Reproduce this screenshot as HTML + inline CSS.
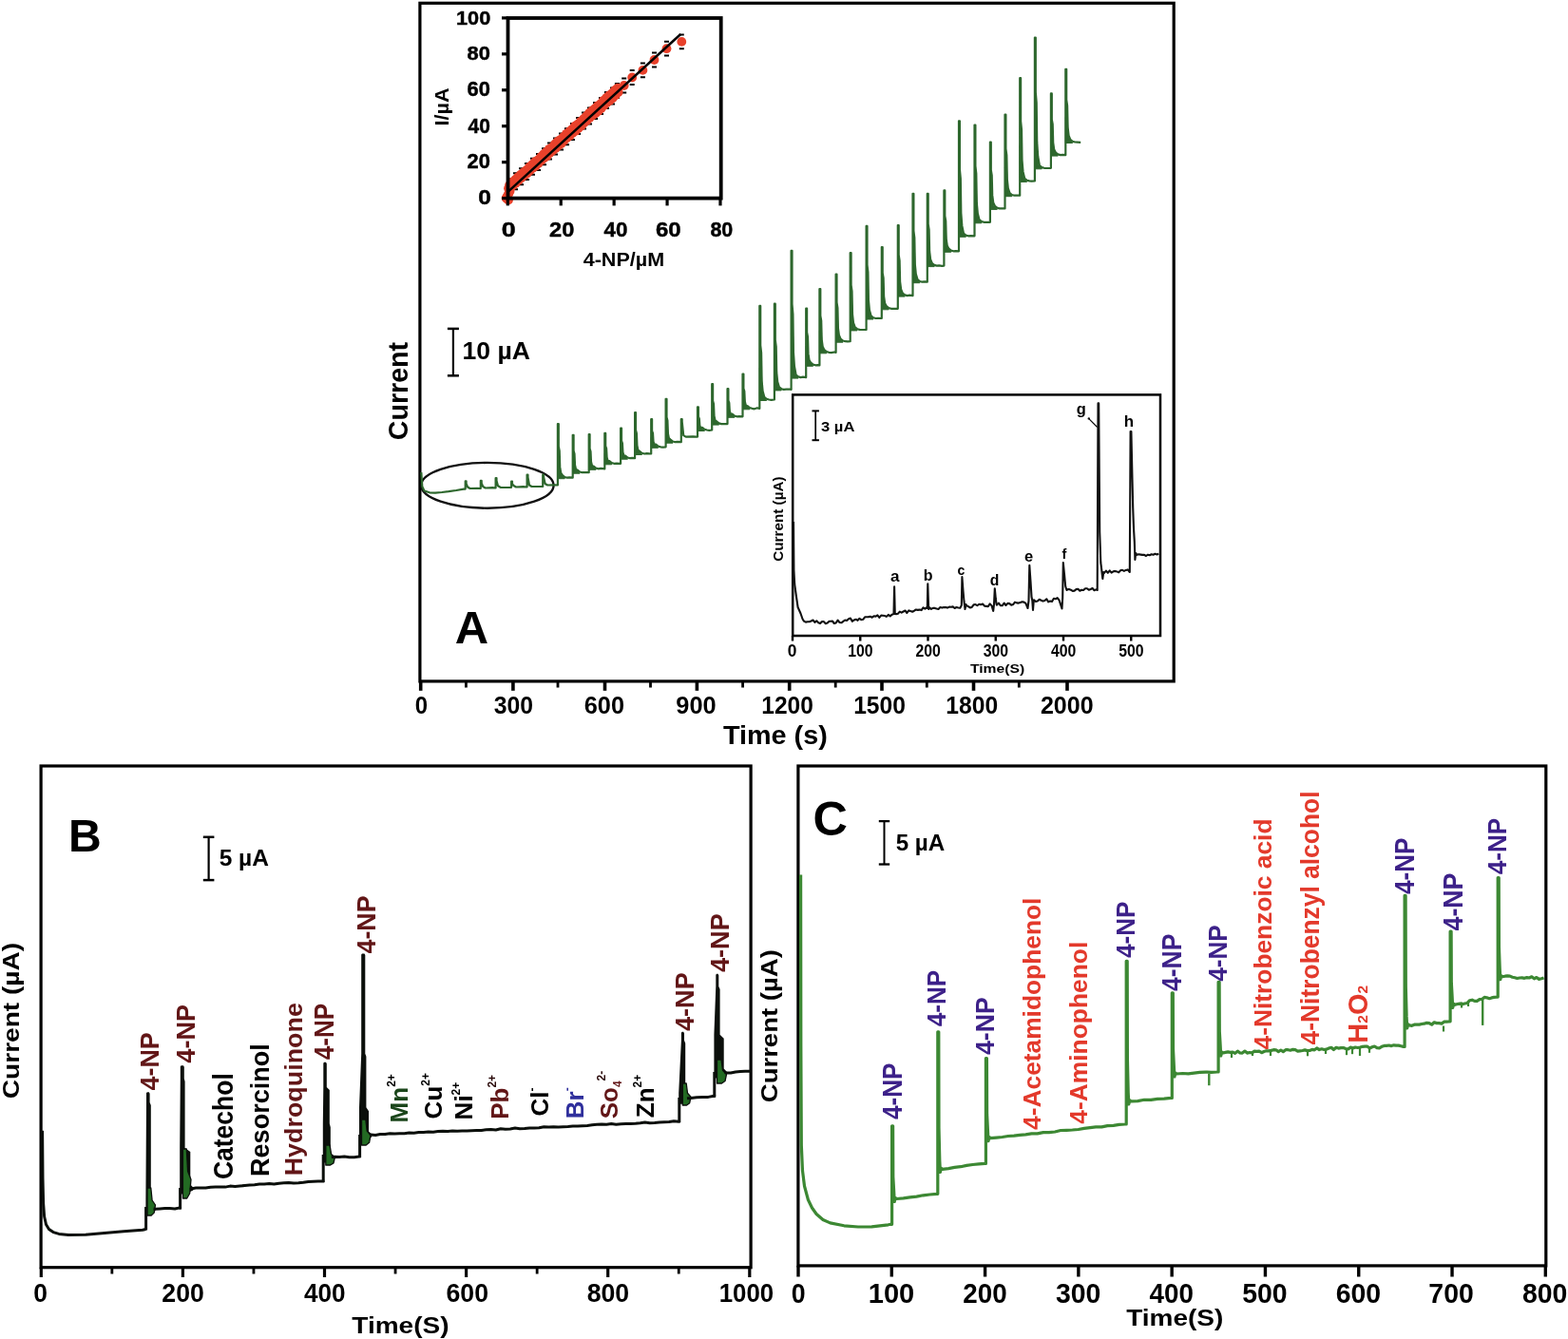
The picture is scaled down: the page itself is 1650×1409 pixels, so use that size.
<!DOCTYPE html>
<html><head><meta charset="utf-8"><title>Figure</title>
<style>html,body{margin:0;padding:0;background:#fff;}svg{display:block;}text{font-family:"Liberation Sans", Arial, Helvetica, sans-serif;}</style>
</head><body>
<svg width="1650" height="1409" viewBox="0 0 1650 1409">
<rect x="0" y="0" width="1650" height="1409" fill="#fff"/>
<rect x="441.9" y="3.3" width="793.30" height="713.60" fill="none" stroke="#000" stroke-width="3.2" stroke-linejoin="miter"/>
<line x1="442.70" y1="716.90" x2="442.70" y2="726.80" stroke="#000" stroke-width="3.6"/>
<line x1="539.90" y1="716.90" x2="539.90" y2="726.80" stroke="#000" stroke-width="3.6"/>
<line x1="636.50" y1="716.90" x2="636.50" y2="726.80" stroke="#000" stroke-width="3.6"/>
<line x1="733.40" y1="716.90" x2="733.40" y2="726.80" stroke="#000" stroke-width="3.6"/>
<line x1="830.70" y1="716.90" x2="830.70" y2="726.80" stroke="#000" stroke-width="3.6"/>
<line x1="928.00" y1="716.90" x2="928.00" y2="726.80" stroke="#000" stroke-width="3.6"/>
<line x1="1024.50" y1="716.90" x2="1024.50" y2="726.80" stroke="#000" stroke-width="3.6"/>
<line x1="1123.00" y1="716.90" x2="1123.00" y2="726.80" stroke="#000" stroke-width="3.6"/>
<line x1="490.40" y1="716.90" x2="490.40" y2="723.50" stroke="#000" stroke-width="2.8"/>
<line x1="587.00" y1="716.90" x2="587.00" y2="723.50" stroke="#000" stroke-width="2.8"/>
<line x1="684.50" y1="716.90" x2="684.50" y2="723.50" stroke="#000" stroke-width="2.8"/>
<line x1="781.60" y1="716.90" x2="781.60" y2="723.50" stroke="#000" stroke-width="2.8"/>
<line x1="879.20" y1="716.90" x2="879.20" y2="723.50" stroke="#000" stroke-width="2.8"/>
<line x1="975.30" y1="716.90" x2="975.30" y2="723.50" stroke="#000" stroke-width="2.8"/>
<line x1="1072.30" y1="716.90" x2="1072.30" y2="723.50" stroke="#000" stroke-width="2.8"/>
<line x1="476.90" y1="345.90" x2="476.90" y2="395.30" stroke="#000" stroke-width="2.2"/>
<line x1="470.90" y1="345.90" x2="482.90" y2="345.90" stroke="#000" stroke-width="2.5"/>
<line x1="470.90" y1="395.30" x2="482.90" y2="395.30" stroke="#000" stroke-width="2.5"/>
<ellipse cx="512.9" cy="510.8" rx="69.7" ry="23.9" fill="none" stroke="#111" stroke-width="2.4"/>
<path d="M586.9,503.7 L586.9,483.4 L588.9,485.4 L589.5,495.9 L590.7,499.7 L592.9,501.7 L594.3,503.7 Z" fill="#2d672d" stroke="#2d672d" stroke-width="1" stroke-linejoin="round"/>
<path d="M602.7,498.2 L602.7,483.8 L604.7,485.8 L605.3,492.5 L606.5,494.2 L608.7,496.2 L610.1,498.2 Z" fill="#2d672d" stroke="#2d672d" stroke-width="1" stroke-linejoin="round"/>
<path d="M619.7,494.3 L619.7,481.0 L621.7,483.0 L622.3,488.9 L623.5,490.3 L625.7,492.3 L627.1,494.3 Z" fill="#2d672d" stroke="#2d672d" stroke-width="1" stroke-linejoin="round"/>
<path d="M636.3,488.8 L636.3,477.0 L638.3,479.0 L638.9,484.0 L640.1,484.8 L642.3,486.8 L643.7,488.8 Z" fill="#2d672d" stroke="#2d672d" stroke-width="1" stroke-linejoin="round"/>
<path d="M653.1,483.2 L653.1,471.5 L655.1,473.5 L655.7,478.4 L656.9,479.2 L659.1,481.2 L660.5,483.2 Z" fill="#2d672d" stroke="#2d672d" stroke-width="1" stroke-linejoin="round"/>
<path d="M668.1,478.5 L668.1,462.8 L670.1,464.8 L670.7,472.3 L671.9,474.5 L674.1,476.5 L675.5,478.5 Z" fill="#2d672d" stroke="#2d672d" stroke-width="1" stroke-linejoin="round"/>
<path d="M685.2,471.3 L685.2,460.4 L687.2,462.4 L687.8,466.8 L689.0,467.3 L691.2,469.3 L692.6,471.3 Z" fill="#2d672d" stroke="#2d672d" stroke-width="1" stroke-linejoin="round"/>
<path d="M700.6,466.2 L700.6,449.8 L702.6,451.8 L703.2,459.8 L704.4,462.2 L706.6,464.2 L708.0,466.2 Z" fill="#2d672d" stroke="#2d672d" stroke-width="1" stroke-linejoin="round"/>
<path d="M734.0,453.5 L734.0,444.3 L736.0,446.3 L736.6,449.6 L737.8,449.5 L740.0,451.5 L741.4,453.5 Z" fill="#2d672d" stroke="#2d672d" stroke-width="1" stroke-linejoin="round"/>
<path d="M749.2,447.1 L749.2,431.9 L751.2,433.9 L751.8,441.1 L753.0,443.1 L755.2,445.1 L756.6,447.1 Z" fill="#2d672d" stroke="#2d672d" stroke-width="1" stroke-linejoin="round"/>
<path d="M765.5,439.3 L765.5,428.4 L767.5,430.4 L768.1,434.8 L769.3,435.3 L771.5,437.3 L772.9,439.3 Z" fill="#2d672d" stroke="#2d672d" stroke-width="1" stroke-linejoin="round"/>
<path d="M781.5,430.8 L781.5,417.5 L783.5,419.5 L784.1,425.5 L785.3,426.8 L787.5,428.8 L788.9,430.8 Z" fill="#2d672d" stroke="#2d672d" stroke-width="1" stroke-linejoin="round"/>
<path d="M799.3,421.5 L799.3,387.0 L801.3,389.0 L801.9,408.7 L803.1,417.5 L805.3,419.5 L806.7,421.5 Z" fill="#2d672d" stroke="#2d672d" stroke-width="1" stroke-linejoin="round"/>
<path d="M814.9,410.9 L814.9,379.2 L816.9,381.2 L817.5,399.1 L818.7,406.9 L820.9,408.9 L822.3,410.9 Z" fill="#2d672d" stroke="#2d672d" stroke-width="1" stroke-linejoin="round"/>
<path d="M832.6,398.1 L832.6,351.8 L834.6,353.8 L835.2,381.1 L836.4,394.1 L838.6,396.1 L840.0,398.1 Z" fill="#2d672d" stroke="#2d672d" stroke-width="1" stroke-linejoin="round"/>
<path d="M848.2,385.3 L848.2,364.0 L850.2,366.0 L850.8,377.1 L852.0,381.3 L854.2,383.3 L855.6,385.3 Z" fill="#2d672d" stroke="#2d672d" stroke-width="1" stroke-linejoin="round"/>
<path d="M862.4,371.8 L862.4,348.1 L864.4,350.1 L865.0,362.8 L866.2,367.8 L868.4,369.8 L869.8,371.8 Z" fill="#2d672d" stroke="#2d672d" stroke-width="1" stroke-linejoin="round"/>
<path d="M879.6,360.2 L879.6,335.2 L881.6,337.2 L882.2,350.7 L883.4,356.2 L885.6,358.2 L887.0,360.2 Z" fill="#2d672d" stroke="#2d672d" stroke-width="1" stroke-linejoin="round"/>
<path d="M894.7,347.9 L894.7,319.4 L896.7,321.4 L897.3,337.2 L898.5,343.9 L900.7,345.9 L902.1,347.9 Z" fill="#2d672d" stroke="#2d672d" stroke-width="1" stroke-linejoin="round"/>
<path d="M911.6,336.0 L911.6,302.0 L913.6,304.0 L914.2,323.3 L915.4,332.0 L917.6,334.0 L919.0,336.0 Z" fill="#2d672d" stroke="#2d672d" stroke-width="1" stroke-linejoin="round"/>
<path d="M927.8,325.8 L927.8,302.8 L929.8,304.8 L930.4,317.0 L931.6,321.8 L933.8,323.8 L935.2,325.8 Z" fill="#2d672d" stroke="#2d672d" stroke-width="1" stroke-linejoin="round"/>
<path d="M944.8,312.1 L944.8,285.9 L946.8,287.9 L947.4,302.2 L948.6,308.1 L950.8,310.1 L952.2,312.1 Z" fill="#2d672d" stroke="#2d672d" stroke-width="1" stroke-linejoin="round"/>
<path d="M960.5,297.7 L960.5,265.1 L962.5,267.1 L963.1,285.6 L964.3,293.7 L966.5,295.7 L967.9,297.7 Z" fill="#2d672d" stroke="#2d672d" stroke-width="1" stroke-linejoin="round"/>
<path d="M975.8,280.6 L975.8,253.8 L977.8,255.8 L978.4,270.5 L979.6,276.6 L981.8,278.6 L983.2,280.6 Z" fill="#2d672d" stroke="#2d672d" stroke-width="1" stroke-linejoin="round"/>
<path d="M993.4,265.3 L993.4,242.6 L995.4,244.6 L996.0,256.6 L997.2,261.3 L999.4,263.3 L1000.8,265.3 Z" fill="#2d672d" stroke="#2d672d" stroke-width="1" stroke-linejoin="round"/>
<path d="M1009.0,249.3 L1009.0,207.2 L1011.0,209.2 L1011.6,233.8 L1012.8,245.3 L1015.0,247.3 L1016.4,249.3 Z" fill="#2d672d" stroke="#2d672d" stroke-width="1" stroke-linejoin="round"/>
<path d="M1025.5,234.8 L1025.5,199.1 L1027.5,201.1 L1028.1,221.5 L1029.3,230.8 L1031.5,232.8 L1032.9,234.8 Z" fill="#2d672d" stroke="#2d672d" stroke-width="1" stroke-linejoin="round"/>
<path d="M1041.9,220.4 L1041.9,195.6 L1043.9,197.6 L1044.5,211.0 L1045.7,216.4 L1047.9,218.4 L1049.3,220.4 Z" fill="#2d672d" stroke="#2d672d" stroke-width="1" stroke-linejoin="round"/>
<path d="M1057.5,206.7 L1057.5,176.7 L1059.5,178.7 L1060.1,195.5 L1061.3,202.7 L1063.5,204.7 L1064.9,206.7 Z" fill="#2d672d" stroke="#2d672d" stroke-width="1" stroke-linejoin="round"/>
<path d="M1073.2,191.4 L1073.2,153.6 L1075.2,155.6 L1075.8,177.4 L1077.0,187.4 L1079.2,189.4 L1080.6,191.4 Z" fill="#2d672d" stroke="#2d672d" stroke-width="1" stroke-linejoin="round"/>
<path d="M1088.9,177.8 L1088.9,130.2 L1090.9,132.2 L1091.5,160.3 L1092.7,173.8 L1094.9,175.8 L1096.3,177.8 Z" fill="#2d672d" stroke="#2d672d" stroke-width="1" stroke-linejoin="round"/>
<path d="M1105.9,164.1 L1105.9,141.1 L1107.9,143.1 L1108.5,155.3 L1109.7,160.1 L1111.9,162.1 L1113.3,164.1 Z" fill="#2d672d" stroke="#2d672d" stroke-width="1" stroke-linejoin="round"/>
<path d="M1121.3,150.5 L1121.3,123.4 L1123.3,125.4 L1123.9,140.3 L1125.1,146.5 L1127.3,148.5 L1128.7,150.5 Z" fill="#2d672d" stroke="#2d672d" stroke-width="1" stroke-linejoin="round"/>
<path d="M443.3,497.0 L444.3,512.0 L446.5,516.5 L452.0,518.3 L458.0,518.6 L465.0,518.0 L472.0,517.2 L480.0,516.0 L488.0,514.6 L489.7,514.6 L489.7,506.4 L490.6,506.4 L490.6,508.9 L492.1,512.5 L494.6,514.0 L502.1,513.8 L505.8,514.0 L505.8,505.9 L506.7,505.9 L506.7,508.4 L508.2,512.0 L510.7,513.5 L518.2,513.2 L521.6,513.5 L521.6,503.2 L522.5,503.2 L522.5,505.7 L524.0,511.3 L526.5,512.8 L534.0,513.0 L538.1,512.8 L538.1,506.7 L539.0,506.7 L539.0,509.2 L540.5,511.0 L543.0,512.5 L550.5,512.1 L554.6,512.5 L554.6,499.6 L555.5,499.6 L555.5,502.1 L557.0,510.5 L559.5,512.0 L567.0,512.0 L571.2,512.0 L571.2,499.6 L572.1,499.6 L572.1,502.1 L573.6,509.0 L576.1,510.5 L583.6,510.4 L586.9,510.5 L586.9,446.0 L587.8,446.0 L587.8,469.8 L588.7,474.4 L589.2,491.4 L590.2,497.6 L591.9,500.1 L594.3,502.0 L596.8,502.7 L599.3,502.3 L602.7,502.7 L602.7,457.8 L603.6,457.8 L603.6,474.3 L604.5,477.5 L605.0,489.3 L606.0,493.7 L607.7,494.6 L610.1,496.5 L612.6,497.2 L615.1,497.2 L619.7,497.2 L619.7,457.0 L620.6,457.0 L620.6,472.2 L621.5,475.1 L622.0,486.0 L623.0,490.0 L624.7,490.7 L627.1,492.6 L629.6,493.3 L632.1,492.8 L636.3,493.3 L636.3,455.9 L637.2,455.9 L637.2,469.3 L638.1,471.9 L638.6,481.4 L639.6,484.9 L641.3,485.2 L643.7,487.1 L646.2,487.8 L648.7,487.7 L653.1,487.8 L653.1,450.7 L654.0,450.7 L654.0,463.9 L654.9,466.4 L655.4,475.9 L656.4,479.4 L658.1,479.6 L660.5,481.5 L663.0,482.2 L665.5,481.8 L668.1,482.2 L668.1,434.2 L669.0,434.2 L669.0,452.4 L669.9,455.9 L670.4,468.8 L671.4,473.6 L673.1,474.9 L675.5,476.8 L678.0,477.5 L680.5,477.1 L683.5,477.4 L685.2,477.5 L685.2,441.2 L686.1,441.2 L686.1,453.4 L687.0,455.8 L687.5,464.5 L688.5,467.7 L690.2,467.7 L692.6,469.6 L695.1,470.3 L697.6,470.6 L700.6,470.3 L700.6,419.8 L701.5,419.8 L701.5,438.9 L702.4,442.5 L702.9,456.1 L703.9,461.1 L705.6,462.6 L708.0,464.5 L710.5,465.2 L713.0,464.8 L716.8,465.2 L716.8,441.1 L717.7,441.1 L717.7,443.6 L719.2,458.1 L721.7,459.6 L729.2,459.3 L732.2,459.7 L734.0,459.6 L734.0,428.3 L734.9,428.3 L734.9,438.5 L735.8,440.4 L736.3,447.7 L737.3,450.3 L739.0,449.9 L741.4,451.8 L743.9,452.5 L746.4,452.9 L749.2,452.5 L749.2,404.2 L750.1,404.2 L750.1,421.8 L751.0,425.1 L751.5,437.7 L752.5,442.3 L754.2,443.5 L756.6,445.4 L759.1,446.1 L761.6,446.2 L765.5,446.1 L765.5,409.2 L766.4,409.2 L766.4,421.4 L767.3,423.8 L767.8,432.5 L768.8,435.7 L770.5,435.7 L772.9,437.6 L775.4,438.3 L777.9,438.2 L781.5,438.3 L781.5,393.6 L782.4,393.6 L782.4,408.8 L783.3,411.7 L783.8,422.6 L784.8,426.5 L786.5,427.2 L788.9,429.1 L791.4,429.8 L793.9,430.3 L796.9,429.3 L799.3,429.8 L799.3,321.9 L800.2,321.9 L800.2,363.3 L801.1,371.2 L801.6,400.8 L802.6,411.6 L804.3,417.9 L806.7,419.8 L809.2,420.5 L811.7,420.9 L814.9,420.5 L814.9,319.7 L815.8,319.7 L815.8,357.6 L816.7,364.8 L817.2,391.9 L818.2,401.8 L819.9,407.3 L822.3,409.2 L824.8,409.9 L827.3,409.7 L830.3,409.5 L832.6,409.9 L832.6,263.8 L833.5,263.8 L833.5,319.8 L834.4,330.5 L834.9,370.4 L835.9,385.1 L837.6,394.5 L840.0,396.4 L842.5,397.1 L845.0,396.7 L848.2,397.1 L848.2,324.6 L849.1,324.6 L849.1,349.7 L850.0,354.5 L850.5,372.4 L851.5,378.9 L853.2,381.7 L855.6,383.6 L858.1,384.3 L860.6,384.1 L862.4,384.3 L862.4,304.1 L863.3,304.1 L863.3,332.1 L864.2,337.5 L864.7,357.5 L865.7,364.8 L867.4,368.2 L869.8,370.1 L872.3,370.8 L874.8,371.1 L877.8,370.5 L879.6,370.8 L879.6,288.5 L880.5,288.5 L880.5,318.2 L881.4,323.9 L881.9,345.1 L882.9,352.8 L884.6,356.6 L887.0,358.5 L889.5,359.2 L892.0,359.3 L894.7,359.2 L894.7,266.0 L895.6,266.0 L895.6,300.0 L896.5,306.4 L897.0,330.7 L898.0,339.6 L899.7,344.3 L902.1,346.2 L904.6,346.9 L907.1,347.0 L911.6,346.9 L911.6,237.9 L912.5,237.9 L912.5,278.7 L913.4,286.4 L913.9,315.6 L914.9,326.3 L916.6,332.4 L919.0,334.3 L921.5,335.0 L924.0,334.9 L927.8,335.0 L927.8,260.0 L928.7,260.0 L928.7,287.2 L929.6,292.4 L930.1,311.8 L931.1,319.0 L932.8,322.2 L935.2,324.1 L937.7,324.8 L940.2,324.8 L944.8,324.8 L944.8,237.0 L945.7,237.0 L945.7,268.1 L946.6,274.1 L947.1,296.3 L948.1,304.4 L949.8,308.5 L952.2,310.4 L954.7,311.1 L957.2,310.7 L960.5,311.1 L960.5,203.8 L961.4,203.8 L961.4,242.8 L962.3,250.2 L962.8,278.1 L963.8,288.3 L965.5,294.1 L967.9,296.0 L970.4,296.7 L972.9,296.3 L975.8,296.7 L975.8,203.8 L976.7,203.8 L976.7,235.6 L977.6,241.7 L978.1,264.4 L979.1,272.8 L980.8,277.0 L983.2,278.9 L985.7,279.6 L988.2,279.3 L991.2,279.8 L993.4,279.6 L993.4,200.4 L994.3,200.4 L994.3,227.2 L995.2,232.4 L995.7,251.5 L996.7,258.5 L998.4,261.7 L1000.8,263.6 L1003.3,264.3 L1005.8,264.2 L1009.0,264.3 L1009.0,127.3 L1009.9,127.3 L1009.9,178.1 L1010.8,187.8 L1011.3,224.1 L1012.3,237.4 L1014.0,245.7 L1016.4,247.6 L1018.9,248.3 L1021.4,248.1 L1025.5,248.3 L1025.5,131.6 L1026.4,131.6 L1026.4,174.5 L1027.3,182.7 L1027.8,213.4 L1028.8,224.6 L1030.5,231.2 L1032.9,233.1 L1035.4,233.8 L1037.9,233.9 L1041.9,233.8 L1041.9,149.5 L1042.8,149.5 L1042.8,178.9 L1043.7,184.4 L1044.2,205.4 L1045.2,213.1 L1046.9,216.8 L1049.3,218.7 L1051.8,219.4 L1054.3,219.4 L1057.5,219.4 L1057.5,120.5 L1058.4,120.5 L1058.4,156.3 L1059.3,163.1 L1059.8,188.7 L1060.8,198.0 L1062.5,203.1 L1064.9,205.0 L1067.4,205.7 L1069.9,205.5 L1073.2,205.7 L1073.2,82.2 L1074.1,82.2 L1074.1,127.6 L1075.0,136.3 L1075.5,168.8 L1076.5,180.7 L1078.2,187.8 L1080.6,189.7 L1083.1,190.4 L1085.6,190.7 L1088.9,190.4 L1088.9,39.6 L1089.8,39.6 L1089.8,97.2 L1090.7,108.2 L1091.2,149.4 L1092.2,164.5 L1093.9,174.2 L1096.3,176.1 L1098.8,176.8 L1101.3,177.0 L1105.9,176.8 L1105.9,98.4 L1106.8,98.4 L1106.8,125.6 L1107.7,130.8 L1108.2,150.2 L1109.2,157.3 L1110.9,160.5 L1113.3,162.4 L1115.8,163.1 L1118.3,162.8 L1121.3,163.1 L1121.3,72.8 L1122.2,72.8 L1122.2,105.0 L1123.1,111.2 L1123.6,134.2 L1124.6,142.6 L1126.3,146.9 L1128.7,148.8 L1131.2,149.5 L1133.7,149.6 L1137.2,149.8" fill="none" stroke="#2d672d" stroke-width="2.2" stroke-linejoin="round"/>
<path d="M534.0,188.4h5.0M534.0,205.4h5.0M540.0,182.2h5.0M540.0,199.2h5.0M546.0,177.3h5.0M546.0,194.3h5.0M552.0,172.1h5.0M552.0,189.1h5.0M558.0,166.8h5.0M558.0,183.8h5.0M564.0,161.9h5.0M564.0,178.9h5.0M570.0,156.3h5.0M570.0,173.3h5.0M576.0,150.5h5.0M576.0,167.5h5.0M582.0,145.4h5.0M582.0,162.4h5.0M588.0,140.4h5.0M588.0,157.4h5.0M594.0,135.2h5.0M594.0,152.2h5.0M600.0,129.9h5.0M600.0,146.9h5.0M606.0,124.0h5.0M606.0,141.0h5.0M612.0,118.4h5.0M612.0,135.4h5.0M618.0,113.5h5.0M618.0,130.5h5.0M624.0,108.1h5.0M624.0,125.1h5.0M630.0,103.1h5.0M630.0,120.1h5.0M636.0,97.0h5.0M636.0,114.0h5.0M642.0,92.5h5.0M642.0,109.5h5.0M646.9,88.1h5.0M646.9,102.9h5.0M654.2,82.6h5.0M654.2,97.4h5.0M662.7,74.1h5.0M662.7,88.9h5.0M673.9,66.5h5.0M673.9,81.3h5.0M686.0,55.6h5.0M686.0,70.4h5.0M699.0,43.8h5.0M699.0,58.6h5.0M714.8,36.5h5.0M714.8,51.3h5.0" fill="none" stroke="#000" stroke-width="2.0" stroke-linejoin="round"/>
<circle cx="533.4" cy="207.6" r="4.9" fill="#e8412b"/>
<circle cx="533.8" cy="209.5" r="4.9" fill="#e8412b"/>
<circle cx="534.4" cy="205.5" r="4.9" fill="#e8412b"/>
<circle cx="535.4" cy="203.5" r="4.9" fill="#e8412b"/>
<circle cx="536.6" cy="201.0" r="4.9" fill="#e8412b"/>
<circle cx="532.6" cy="208.5" r="4.9" fill="#e8412b"/>
<circle cx="535.0" cy="210.5" r="4.9" fill="#e8412b"/>
<circle cx="535.0" cy="198.3" r="4.9" fill="#e8412b"/>
<circle cx="536.5" cy="197.4" r="4.9" fill="#e8412b"/>
<circle cx="538.0" cy="195.9" r="4.9" fill="#e8412b"/>
<circle cx="539.5" cy="194.0" r="4.9" fill="#e8412b"/>
<circle cx="541.0" cy="193.5" r="4.9" fill="#e8412b"/>
<circle cx="542.5" cy="191.2" r="4.9" fill="#e8412b"/>
<circle cx="544.0" cy="190.2" r="4.9" fill="#e8412b"/>
<circle cx="545.5" cy="189.3" r="4.9" fill="#e8412b"/>
<circle cx="547.0" cy="187.2" r="4.9" fill="#e8412b"/>
<circle cx="548.5" cy="186.3" r="4.9" fill="#e8412b"/>
<circle cx="550.0" cy="184.4" r="4.9" fill="#e8412b"/>
<circle cx="551.5" cy="183.9" r="4.9" fill="#e8412b"/>
<circle cx="553.0" cy="182.7" r="4.9" fill="#e8412b"/>
<circle cx="554.5" cy="181.1" r="4.9" fill="#e8412b"/>
<circle cx="556.0" cy="180.1" r="4.9" fill="#e8412b"/>
<circle cx="557.5" cy="178.1" r="4.9" fill="#e8412b"/>
<circle cx="559.0" cy="177.3" r="4.9" fill="#e8412b"/>
<circle cx="560.5" cy="175.8" r="4.9" fill="#e8412b"/>
<circle cx="562.0" cy="174.5" r="4.9" fill="#e8412b"/>
<circle cx="563.5" cy="173.0" r="4.9" fill="#e8412b"/>
<circle cx="565.0" cy="172.1" r="4.9" fill="#e8412b"/>
<circle cx="566.5" cy="170.9" r="4.9" fill="#e8412b"/>
<circle cx="568.0" cy="169.0" r="4.9" fill="#e8412b"/>
<circle cx="569.5" cy="167.9" r="4.9" fill="#e8412b"/>
<circle cx="571.0" cy="165.9" r="4.9" fill="#e8412b"/>
<circle cx="572.5" cy="165.3" r="4.9" fill="#e8412b"/>
<circle cx="574.0" cy="163.9" r="4.9" fill="#e8412b"/>
<circle cx="575.5" cy="163.0" r="4.9" fill="#e8412b"/>
<circle cx="577.0" cy="161.5" r="4.9" fill="#e8412b"/>
<circle cx="578.5" cy="159.5" r="4.9" fill="#e8412b"/>
<circle cx="580.0" cy="158.3" r="4.9" fill="#e8412b"/>
<circle cx="581.5" cy="157.3" r="4.9" fill="#e8412b"/>
<circle cx="583.0" cy="155.2" r="4.9" fill="#e8412b"/>
<circle cx="584.5" cy="154.4" r="4.9" fill="#e8412b"/>
<circle cx="586.0" cy="152.7" r="4.9" fill="#e8412b"/>
<circle cx="587.5" cy="151.3" r="4.9" fill="#e8412b"/>
<circle cx="589.0" cy="149.9" r="4.9" fill="#e8412b"/>
<circle cx="590.5" cy="149.4" r="4.9" fill="#e8412b"/>
<circle cx="592.0" cy="147.3" r="4.9" fill="#e8412b"/>
<circle cx="593.5" cy="146.1" r="4.9" fill="#e8412b"/>
<circle cx="595.0" cy="145.0" r="4.9" fill="#e8412b"/>
<circle cx="596.5" cy="144.2" r="4.9" fill="#e8412b"/>
<circle cx="598.0" cy="142.0" r="4.9" fill="#e8412b"/>
<circle cx="599.5" cy="141.1" r="4.9" fill="#e8412b"/>
<circle cx="601.0" cy="139.9" r="4.9" fill="#e8412b"/>
<circle cx="602.5" cy="138.9" r="4.9" fill="#e8412b"/>
<circle cx="604.0" cy="137.5" r="4.9" fill="#e8412b"/>
<circle cx="605.5" cy="136.2" r="4.9" fill="#e8412b"/>
<circle cx="607.0" cy="134.2" r="4.9" fill="#e8412b"/>
<circle cx="608.5" cy="133.0" r="4.9" fill="#e8412b"/>
<circle cx="610.0" cy="131.7" r="4.9" fill="#e8412b"/>
<circle cx="611.5" cy="131.0" r="4.9" fill="#e8412b"/>
<circle cx="613.0" cy="129.7" r="4.9" fill="#e8412b"/>
<circle cx="614.5" cy="127.4" r="4.9" fill="#e8412b"/>
<circle cx="616.0" cy="126.1" r="4.9" fill="#e8412b"/>
<circle cx="617.5" cy="124.9" r="4.9" fill="#e8412b"/>
<circle cx="619.0" cy="123.5" r="4.9" fill="#e8412b"/>
<circle cx="620.5" cy="122.5" r="4.9" fill="#e8412b"/>
<circle cx="622.0" cy="121.3" r="4.9" fill="#e8412b"/>
<circle cx="623.5" cy="119.6" r="4.9" fill="#e8412b"/>
<circle cx="625.0" cy="117.9" r="4.9" fill="#e8412b"/>
<circle cx="626.5" cy="117.1" r="4.9" fill="#e8412b"/>
<circle cx="628.0" cy="115.7" r="4.9" fill="#e8412b"/>
<circle cx="629.5" cy="114.6" r="4.9" fill="#e8412b"/>
<circle cx="631.0" cy="113.8" r="4.9" fill="#e8412b"/>
<circle cx="632.5" cy="112.1" r="4.9" fill="#e8412b"/>
<circle cx="634.0" cy="110.6" r="4.9" fill="#e8412b"/>
<circle cx="635.5" cy="109.4" r="4.9" fill="#e8412b"/>
<circle cx="637.0" cy="108.1" r="4.9" fill="#e8412b"/>
<circle cx="638.5" cy="106.0" r="4.9" fill="#e8412b"/>
<circle cx="640.0" cy="105.7" r="4.9" fill="#e8412b"/>
<circle cx="641.5" cy="104.2" r="4.9" fill="#e8412b"/>
<circle cx="643.0" cy="103.0" r="4.9" fill="#e8412b"/>
<circle cx="644.5" cy="101.5" r="4.9" fill="#e8412b"/>
<circle cx="646.0" cy="99.6" r="4.9" fill="#e8412b"/>
<circle cx="647.5" cy="98.3" r="4.9" fill="#e8412b"/>
<circle cx="649.0" cy="96.6" r="4.9" fill="#e8412b"/>
<circle cx="536.0" cy="194.9" r="4.9" fill="#e8412b"/>
<circle cx="536.7" cy="197.8" r="4.9" fill="#e8412b"/>
<circle cx="539.0" cy="191.7" r="4.9" fill="#e8412b"/>
<circle cx="539.7" cy="195.3" r="4.9" fill="#e8412b"/>
<circle cx="542.0" cy="189.1" r="4.9" fill="#e8412b"/>
<circle cx="542.7" cy="192.8" r="4.9" fill="#e8412b"/>
<circle cx="545.0" cy="186.3" r="4.9" fill="#e8412b"/>
<circle cx="545.7" cy="189.8" r="4.9" fill="#e8412b"/>
<circle cx="548.0" cy="183.7" r="4.9" fill="#e8412b"/>
<circle cx="548.7" cy="187.2" r="4.9" fill="#e8412b"/>
<circle cx="551.0" cy="181.2" r="4.9" fill="#e8412b"/>
<circle cx="551.7" cy="184.5" r="4.9" fill="#e8412b"/>
<circle cx="554.0" cy="179.0" r="4.9" fill="#e8412b"/>
<circle cx="554.7" cy="182.5" r="4.9" fill="#e8412b"/>
<circle cx="557.0" cy="175.6" r="4.9" fill="#e8412b"/>
<circle cx="557.7" cy="179.5" r="4.9" fill="#e8412b"/>
<circle cx="560.0" cy="173.1" r="4.9" fill="#e8412b"/>
<circle cx="560.7" cy="176.9" r="4.9" fill="#e8412b"/>
<circle cx="563.0" cy="170.2" r="4.9" fill="#e8412b"/>
<circle cx="563.7" cy="174.8" r="4.9" fill="#e8412b"/>
<circle cx="566.0" cy="168.4" r="4.9" fill="#e8412b"/>
<circle cx="566.7" cy="171.8" r="4.9" fill="#e8412b"/>
<circle cx="569.0" cy="165.2" r="4.9" fill="#e8412b"/>
<circle cx="569.7" cy="168.7" r="4.9" fill="#e8412b"/>
<circle cx="572.0" cy="162.1" r="4.9" fill="#e8412b"/>
<circle cx="572.7" cy="166.3" r="4.9" fill="#e8412b"/>
<circle cx="575.0" cy="159.6" r="4.9" fill="#e8412b"/>
<circle cx="575.7" cy="164.2" r="4.9" fill="#e8412b"/>
<circle cx="578.0" cy="156.8" r="4.9" fill="#e8412b"/>
<circle cx="578.7" cy="160.7" r="4.9" fill="#e8412b"/>
<circle cx="581.0" cy="154.9" r="4.9" fill="#e8412b"/>
<circle cx="581.7" cy="158.6" r="4.9" fill="#e8412b"/>
<circle cx="584.0" cy="151.4" r="4.9" fill="#e8412b"/>
<circle cx="584.7" cy="156.0" r="4.9" fill="#e8412b"/>
<circle cx="587.0" cy="148.6" r="4.9" fill="#e8412b"/>
<circle cx="587.7" cy="153.3" r="4.9" fill="#e8412b"/>
<circle cx="590.0" cy="146.8" r="4.9" fill="#e8412b"/>
<circle cx="590.7" cy="151.0" r="4.9" fill="#e8412b"/>
<circle cx="593.0" cy="143.9" r="4.9" fill="#e8412b"/>
<circle cx="593.7" cy="147.8" r="4.9" fill="#e8412b"/>
<circle cx="596.0" cy="140.8" r="4.9" fill="#e8412b"/>
<circle cx="596.7" cy="145.0" r="4.9" fill="#e8412b"/>
<circle cx="599.0" cy="138.5" r="4.9" fill="#e8412b"/>
<circle cx="599.7" cy="142.7" r="4.9" fill="#e8412b"/>
<circle cx="602.0" cy="135.9" r="4.9" fill="#e8412b"/>
<circle cx="602.7" cy="139.9" r="4.9" fill="#e8412b"/>
<circle cx="605.0" cy="132.6" r="4.9" fill="#e8412b"/>
<circle cx="605.7" cy="137.7" r="4.9" fill="#e8412b"/>
<circle cx="608.0" cy="130.7" r="4.9" fill="#e8412b"/>
<circle cx="608.7" cy="135.1" r="4.9" fill="#e8412b"/>
<circle cx="611.0" cy="127.8" r="4.9" fill="#e8412b"/>
<circle cx="611.7" cy="132.5" r="4.9" fill="#e8412b"/>
<circle cx="614.0" cy="125.1" r="4.9" fill="#e8412b"/>
<circle cx="614.7" cy="129.2" r="4.9" fill="#e8412b"/>
<circle cx="617.0" cy="122.1" r="4.9" fill="#e8412b"/>
<circle cx="617.7" cy="126.7" r="4.9" fill="#e8412b"/>
<circle cx="620.0" cy="119.0" r="4.9" fill="#e8412b"/>
<circle cx="620.7" cy="123.7" r="4.9" fill="#e8412b"/>
<circle cx="623.0" cy="116.5" r="4.9" fill="#e8412b"/>
<circle cx="623.7" cy="121.3" r="4.9" fill="#e8412b"/>
<circle cx="626.0" cy="114.2" r="4.9" fill="#e8412b"/>
<circle cx="626.7" cy="119.4" r="4.9" fill="#e8412b"/>
<circle cx="629.0" cy="111.3" r="4.9" fill="#e8412b"/>
<circle cx="629.7" cy="116.7" r="4.9" fill="#e8412b"/>
<circle cx="632.0" cy="109.2" r="4.9" fill="#e8412b"/>
<circle cx="632.7" cy="114.1" r="4.9" fill="#e8412b"/>
<circle cx="635.0" cy="105.8" r="4.9" fill="#e8412b"/>
<circle cx="635.7" cy="110.7" r="4.9" fill="#e8412b"/>
<circle cx="638.0" cy="103.0" r="4.9" fill="#e8412b"/>
<circle cx="638.7" cy="108.1" r="4.9" fill="#e8412b"/>
<circle cx="641.0" cy="100.3" r="4.9" fill="#e8412b"/>
<circle cx="641.7" cy="105.8" r="4.9" fill="#e8412b"/>
<circle cx="644.0" cy="98.2" r="4.9" fill="#e8412b"/>
<circle cx="644.7" cy="103.3" r="4.9" fill="#e8412b"/>
<circle cx="647.0" cy="95.0" r="4.9" fill="#e8412b"/>
<circle cx="647.7" cy="100.4" r="4.9" fill="#e8412b"/>
<circle cx="650.0" cy="92.6" r="4.9" fill="#e8412b"/>
<circle cx="650.7" cy="97.1" r="4.9" fill="#e8412b"/>
<circle cx="649.4" cy="95.5" r="4.9" fill="#e8412b"/>
<circle cx="656.7" cy="90.0" r="4.9" fill="#e8412b"/>
<circle cx="665.2" cy="81.5" r="4.9" fill="#e8412b"/>
<circle cx="676.4" cy="73.9" r="4.9" fill="#e8412b"/>
<circle cx="688.5" cy="63.0" r="4.9" fill="#e8412b"/>
<circle cx="701.5" cy="51.2" r="4.9" fill="#e8412b"/>
<circle cx="717.3" cy="43.9" r="4.9" fill="#e8412b"/>
<line x1="534.20" y1="202.20" x2="716.20" y2="36.00" stroke="#000" stroke-width="2.5"/>
<rect x="534.5" y="19.0" width="224.20" height="189.60" fill="none" stroke="#000" stroke-width="3.8" stroke-linejoin="miter"/>
<line x1="528.00" y1="208.60" x2="534.50" y2="208.60" stroke="#000" stroke-width="3.2"/>
<line x1="528.00" y1="170.66" x2="534.50" y2="170.66" stroke="#000" stroke-width="3.2"/>
<line x1="528.00" y1="132.72" x2="534.50" y2="132.72" stroke="#000" stroke-width="3.2"/>
<line x1="528.00" y1="94.78" x2="534.50" y2="94.78" stroke="#000" stroke-width="3.2"/>
<line x1="528.00" y1="56.84" x2="534.50" y2="56.84" stroke="#000" stroke-width="3.2"/>
<line x1="528.00" y1="18.90" x2="534.50" y2="18.90" stroke="#000" stroke-width="3.2"/>
<line x1="534.30" y1="208.60" x2="534.30" y2="216.40" stroke="#000" stroke-width="3.2"/>
<line x1="590.22" y1="208.60" x2="590.22" y2="216.40" stroke="#000" stroke-width="3.2"/>
<line x1="646.14" y1="208.60" x2="646.14" y2="216.40" stroke="#000" stroke-width="3.2"/>
<line x1="702.06" y1="208.60" x2="702.06" y2="216.40" stroke="#000" stroke-width="3.2"/>
<line x1="757.98" y1="208.60" x2="757.98" y2="216.40" stroke="#000" stroke-width="3.2"/>
<rect x="834.2" y="415.4" width="386.79999999999995" height="253.60000000000002" fill="#fff" stroke="none"/>
<rect x="834.2" y="415.4" width="386.80" height="253.60" fill="none" stroke="#000" stroke-width="2.5" stroke-linejoin="miter"/>
<line x1="834.00" y1="669.00" x2="834.00" y2="674.50" stroke="#000" stroke-width="2.4"/>
<line x1="905.25" y1="669.00" x2="905.25" y2="674.50" stroke="#000" stroke-width="2.4"/>
<line x1="976.50" y1="669.00" x2="976.50" y2="674.50" stroke="#000" stroke-width="2.4"/>
<line x1="1047.75" y1="669.00" x2="1047.75" y2="674.50" stroke="#000" stroke-width="2.4"/>
<line x1="1119.00" y1="669.00" x2="1119.00" y2="674.50" stroke="#000" stroke-width="2.4"/>
<line x1="1190.25" y1="669.00" x2="1190.25" y2="674.50" stroke="#000" stroke-width="2.4"/>
<line x1="858.20" y1="432.40" x2="858.20" y2="463.20" stroke="#000" stroke-width="1.7"/>
<line x1="854.50" y1="432.40" x2="861.90" y2="432.40" stroke="#000" stroke-width="2.0"/>
<line x1="854.50" y1="463.20" x2="861.90" y2="463.20" stroke="#000" stroke-width="2.0"/>
<path d="M835.0,549.0 L835.4,600.0 L836.2,615.0 L837.7,626.0 L839.6,639.0 L842.5,645.5 L844.6,651.5 L846.0,653.6 L847.9,654.6 L849.8,654.3 L851.7,654.3 L853.6,653.5 L855.5,652.5 L857.4,654.9 L859.3,653.3 L861.2,655.2 L863.1,655.9 L865.0,654.0 L866.9,654.1 L868.8,656.2 L870.7,655.6 L872.6,653.7 L874.0,653.7 L875.9,653.5 L877.8,656.0 L879.7,655.4 L881.6,652.7 L883.5,655.0 L885.4,655.3 L887.3,653.9 L889.2,652.5 L891.1,653.0 L893.0,651.2 L894.9,650.6 L896.8,653.8 L898.7,652.4 L900.6,651.7 L902.5,652.9 L904.4,650.8 L906.3,652.2 L908.2,651.8 L910.1,649.3 L912.0,649.2 L913.9,649.1 L915.8,648.7 L917.7,649.7 L919.6,648.3 L921.5,648.6 L923.4,647.3 L925.3,649.9 L927.2,647.6 L929.1,647.8 L931.0,648.0 L932.9,648.9 L934.8,646.9 L936.7,648.4 L938.6,646.7 L940.5,646.0 L941.1,617.2 L941.8,646.0 L943.0,646.1 L944.9,645.7 L946.8,643.6 L948.7,644.7 L950.6,643.5 L952.5,642.5 L954.4,645.0 L956.3,642.4 L958.2,643.1 L960.1,643.7 L962.0,642.7 L963.9,641.5 L965.8,641.9 L967.7,641.6 L969.6,642.1 L971.5,639.3 L973.4,640.6 L975.3,639.1 L975.8,640.0 L976.3,614.3 L977.2,641.0 L978.0,639.2 L979.9,640.9 L981.8,639.8 L983.7,639.9 L985.6,640.5 L987.5,640.9 L989.4,639.1 L991.3,639.6 L993.2,639.1 L995.1,639.0 L997.0,639.6 L998.9,638.6 L1000.8,638.8 L1002.7,638.4 L1004.6,640.0 L1006.5,639.0 L1008.4,639.5 L1010.3,639.7 L1011.8,637.0 L1012.4,607.1 L1013.5,622.0 L1014.5,633.0 L1015.5,641.0 L1016.5,636.0 L1017.0,637.1 L1018.9,638.1 L1020.8,639.4 L1022.7,638.9 L1024.6,636.3 L1026.5,636.1 L1028.4,637.2 L1030.3,635.7 L1032.2,636.3 L1034.1,635.5 L1036.0,637.6 L1037.9,637.9 L1039.8,638.2 L1041.7,635.4 L1043.6,637.4 L1045.2,643.0 L1046.0,636.0 L1046.8,619.4 L1047.8,630.0 L1048.6,636.0 L1049.0,636.6 L1050.9,634.6 L1052.8,637.1 L1054.7,637.3 L1056.6,634.5 L1058.5,637.0 L1060.4,634.9 L1062.3,635.1 L1064.2,636.8 L1066.1,636.1 L1068.0,633.6 L1069.9,634.4 L1071.8,634.6 L1073.7,633.9 L1075.6,633.2 L1077.5,633.6 L1079.4,634.9 L1081.5,640.0 L1082.5,632.0 L1083.3,594.9 L1084.5,612.0 L1085.5,628.0 L1086.3,632.0 L1087.0,642.0 L1087.8,632.0 L1088.0,631.3 L1089.9,633.0 L1091.8,632.5 L1093.7,630.8 L1095.6,631.7 L1097.5,632.6 L1099.4,632.0 L1101.3,630.3 L1103.2,633.4 L1105.1,632.5 L1107.0,633.0 L1108.9,629.7 L1110.8,630.2 L1112.7,629.2 L1114.6,631.7 L1117.5,640.5 L1118.2,629.0 L1118.8,592.0 L1120.0,604.0 L1121.2,617.0 L1122.5,621.0 L1123.0,620.4 L1124.9,620.0 L1126.8,620.7 L1128.7,621.9 L1130.6,621.6 L1132.5,620.1 L1134.4,619.7 L1136.3,621.7 L1138.2,620.7 L1140.1,621.0 L1142.0,619.3 L1143.9,619.2 L1145.8,620.8 L1147.7,620.0 L1149.6,619.0 L1151.5,621.2 L1153.4,620.4 L1154.7,621.0 L1155.5,424.4 L1156.2,424.4 L1157.2,560.0 L1158.3,592.0 L1159.3,600.0 L1160.3,609.0 L1161.3,602.0 L1162.0,602.9 L1163.9,600.6 L1165.8,602.8 L1167.7,600.4 L1169.6,602.6 L1171.5,601.3 L1173.4,600.9 L1175.3,601.4 L1177.2,602.4 L1179.1,600.3 L1181.0,599.8 L1182.9,600.9 L1184.8,599.9 L1186.7,599.4 L1188.8,602.0 L1189.6,454.0 L1190.4,454.0 L1191.4,500.0 L1192.2,534.0 L1193.0,556.0 L1193.8,570.0 L1194.4,589.0 L1195.2,582.0 L1196.0,584.0 L1196.5,583.6 L1198.4,583.3 L1200.3,583.6 L1202.2,583.9 L1204.1,583.8 L1206.0,585.0 L1207.9,583.7 L1209.8,584.2 L1211.7,583.3 L1213.6,583.7 L1215.5,582.8 L1217.4,583.4 L1219.3,582.7" fill="none" stroke="#111" stroke-width="2.1" stroke-linejoin="round"/>
<line x1="1145.60" y1="440.30" x2="1154.60" y2="449.50" stroke="#000" stroke-width="1.1"/>
<circle cx="1145.8" cy="440.4" r="1.2" fill="#111"/>
<rect x="43.1" y="806.0" width="747.00" height="527.70" fill="none" stroke="#000" stroke-width="3.2" stroke-linejoin="miter"/>
<line x1="43.30" y1="1333.70" x2="43.30" y2="1344.00" stroke="#000" stroke-width="3.2"/>
<line x1="117.85" y1="1333.70" x2="117.85" y2="1340.50" stroke="#000" stroke-width="2.8"/>
<line x1="192.40" y1="1333.70" x2="192.40" y2="1344.00" stroke="#000" stroke-width="3.2"/>
<line x1="266.95" y1="1333.70" x2="266.95" y2="1340.50" stroke="#000" stroke-width="2.8"/>
<line x1="341.50" y1="1333.70" x2="341.50" y2="1344.00" stroke="#000" stroke-width="3.2"/>
<line x1="416.05" y1="1333.70" x2="416.05" y2="1340.50" stroke="#000" stroke-width="2.8"/>
<line x1="490.60" y1="1333.70" x2="490.60" y2="1344.00" stroke="#000" stroke-width="3.2"/>
<line x1="565.15" y1="1333.70" x2="565.15" y2="1340.50" stroke="#000" stroke-width="2.8"/>
<line x1="639.70" y1="1333.70" x2="639.70" y2="1344.00" stroke="#000" stroke-width="3.2"/>
<line x1="714.25" y1="1333.70" x2="714.25" y2="1340.50" stroke="#000" stroke-width="2.8"/>
<line x1="788.80" y1="1333.70" x2="788.80" y2="1344.00" stroke="#000" stroke-width="3.2"/>
<line x1="219.60" y1="880.80" x2="219.60" y2="926.10" stroke="#000" stroke-width="2.2"/>
<line x1="213.80" y1="880.80" x2="225.40" y2="880.80" stroke="#000" stroke-width="2.5"/>
<line x1="213.80" y1="926.10" x2="225.40" y2="926.10" stroke="#000" stroke-width="2.5"/>
<path d="M44.6,1189.7 L45.0,1240.0 L45.6,1266.0 L46.6,1280.0 L48.5,1288.5 L51.5,1293.5 L56.0,1296.6 L62.0,1298.4 L72.0,1299.6 L90.0,1299.3 L110.0,1297.6 L130.0,1295.8 L150.0,1294.2 L153.5,1293.5" fill="none" stroke="#0b0f0b" stroke-width="3.0" stroke-linejoin="round"/>
<path d="M153.4,1278.0 L153.4,1262.0 L154.0,1160.0 L154.0,1150.3 L154.8,1149.3 L156.8,1149.3 L157.6,1150.8 L157.6,1160.0 L158.8,1163.0 L158.8,1262.0 L160.5,1266.0 L160.5,1268.0 L163.5,1271.0 L163.5,1274.0 L158.8,1278.0 Z" fill="#0b0f0b" stroke="none" stroke-width="0" stroke-linejoin="round"/>
<path d="M155.0,1250.0 L158.8,1250.0 L160.1,1263.0 L163.5,1268.0 L162.2,1276.1 L159.2,1279.0 L155.0,1279.0 Z" fill="#236b23" stroke="#0b0f0b" stroke-width="1.3" stroke-linejoin="round"/>
<path d="M161.5,1272.0 L163.0,1272.3 L168.2,1271.9 L173.5,1271.4 L178.7,1271.6 L184.0,1272.0 L189.2,1270.9 L190.7,1271.4" fill="none" stroke="#0b0f0b" stroke-width="3.0" stroke-linejoin="round"/>
<path d="M189.2,1256.5 L189.2,1208.0 L189.8,1135.0 L189.8,1122.2 L190.6,1121.2 L193.0,1121.2 L193.8,1122.7 L193.8,1135.0 L194.6,1138.0 L194.6,1208.0 L200.3,1212.0 L200.3,1246.5 L203.3,1249.5 L203.3,1252.5 L194.6,1256.5 Z" fill="#0b0f0b" stroke="none" stroke-width="0" stroke-linejoin="round"/>
<path d="M192.4,1209.0 L196.3,1209.0 L197.6,1232.4 L201.0,1241.2 L199.7,1255.8 L196.7,1261.0 L192.4,1261.0 Z" fill="#236b23" stroke="#0b0f0b" stroke-width="1.3" stroke-linejoin="round"/>
<path d="M201.3,1250.5 L201.0,1250.9 L206.1,1250.1 L211.3,1249.9 L216.4,1250.1 L221.6,1249.3 L226.7,1249.1 L231.8,1249.1 L237.0,1249.1 L242.1,1248.1 L247.3,1248.4 L252.4,1248.0 L257.5,1247.6 L262.7,1247.1 L267.8,1246.7 L273.0,1246.1 L278.1,1245.9 L283.3,1245.5 L288.4,1246.1 L293.5,1245.2 L298.7,1244.8 L303.8,1244.4 L309.0,1245.1 L314.1,1244.8 L319.2,1244.3 L324.4,1243.6 L329.5,1243.2 L334.7,1243.0 L339.8,1243.0 L341.3,1243.0" fill="none" stroke="#0b0f0b" stroke-width="3.0" stroke-linejoin="round"/>
<path d="M339.8,1223.4 L339.8,1182.2 L340.3,1143.9 L340.3,1118.8 L341.1,1117.8 L343.0,1117.8 L343.8,1119.3 L343.8,1143.9 L346.8,1146.9 L346.8,1182.2 L347.8,1186.2 L347.8,1213.4 L350.8,1216.4 L350.8,1219.4 L346.8,1223.4 Z" fill="#0b0f0b" stroke="none" stroke-width="0" stroke-linejoin="round"/>
<path d="M342.8,1205.0 L347.1,1205.0 L348.6,1214.5 L352.4,1218.0 L351.0,1223.9 L347.6,1226.0 L342.8,1226.0 Z" fill="#236b23" stroke="#0b0f0b" stroke-width="1.3" stroke-linejoin="round"/>
<path d="M348.8,1217.4 L352.0,1217.2 L357.2,1217.4 L362.4,1217.1 L367.6,1217.8 L372.8,1217.7 L378.0,1217.1 L379.5,1217.0" fill="none" stroke="#0b0f0b" stroke-width="3.0" stroke-linejoin="round"/>
<path d="M378.0,1200.5 L378.0,1165.2 L380.2,1108.8 L380.2,1004.5 L381.0,1003.5 L383.5,1003.5 L384.3,1005.0 L384.3,1108.8 L385.4,1111.8 L385.4,1165.2 L388.0,1169.2 L388.0,1190.5 L391.0,1193.5 L391.0,1196.5 L385.4,1200.5 Z" fill="#0b0f0b" stroke="none" stroke-width="0" stroke-linejoin="round"/>
<path d="M380.5,1178.0 L384.8,1178.0 L386.2,1190.2 L390.0,1194.7 L388.6,1202.3 L385.2,1205.0 L380.5,1205.0 Z" fill="#236b23" stroke="#0b0f0b" stroke-width="1.3" stroke-linejoin="round"/>
<path d="M389.0,1194.5 L390.0,1193.9 L395.1,1194.5 L400.1,1193.5 L405.2,1193.4 L410.3,1192.7 L415.3,1192.9 L420.4,1192.8 L425.5,1192.7 L430.5,1192.1 L435.6,1192.2 L440.7,1191.4 L445.7,1191.5 L450.8,1191.0 L455.9,1191.2 L460.9,1190.5 L466.0,1190.3 L471.1,1190.4 L476.1,1190.1 L481.2,1190.3 L486.2,1190.0 L491.3,1190.1 L496.4,1189.7 L501.4,1189.6 L506.5,1189.6 L511.6,1188.7 L516.6,1188.4 L521.7,1189.0 L526.8,1187.8 L531.8,1188.3 L536.9,1187.9 L542.0,1187.0 L547.0,1187.7 L552.1,1187.6 L557.2,1187.0 L562.2,1186.9 L567.3,1186.8 L572.4,1185.8 L577.4,1186.0 L582.5,1185.8 L587.6,1185.9 L592.6,1185.7 L597.7,1185.5 L602.8,1185.0 L607.8,1185.1 L612.9,1184.7 L618.0,1184.4 L623.0,1183.7 L628.1,1183.2 L633.2,1183.1 L638.2,1183.2 L643.3,1182.6 L648.3,1183.3 L653.4,1182.7 L658.5,1182.6 L663.5,1182.4 L668.6,1182.2 L673.7,1181.8 L678.7,1181.0 L683.8,1181.7 L688.9,1181.4 L693.9,1180.9 L699.0,1180.7 L704.1,1180.6 L709.1,1179.7 L714.2,1180.3 L715.7,1180.0" fill="none" stroke="#0b0f0b" stroke-width="3.0" stroke-linejoin="round"/>
<path d="M714.2,1161.7 L714.2,1150.0 L716.9,1094.8 L716.9,1086.7 L717.7,1085.7 L719.2,1085.7 L720.0,1087.2 L720.0,1094.8 L721.2,1097.8 L721.2,1150.0 L722.0,1154.0 L722.0,1151.7 L725.0,1154.7 L725.0,1157.7 L721.2,1161.7 Z" fill="#0b0f0b" stroke="none" stroke-width="0" stroke-linejoin="round"/>
<path d="M718.3,1140.0 L722.2,1140.0 L723.5,1150.3 L727.0,1154.3 L725.7,1160.7 L722.6,1163.0 L718.3,1163.0 Z" fill="#236b23" stroke="#0b0f0b" stroke-width="1.3" stroke-linejoin="round"/>
<path d="M723.0,1155.7 L727.0,1155.4 L733.1,1154.7 L739.2,1154.4 L745.3,1154.4 L751.4,1153.2 L752.9,1153.6" fill="none" stroke="#0b0f0b" stroke-width="3.0" stroke-linejoin="round"/>
<path d="M751.4,1134.6 L751.4,1088.8 L753.3,1038.0 L753.3,1025.8 L754.1,1024.8 L755.5,1024.8 L756.3,1026.3 L756.3,1038.0 L757.6,1041.0 L757.6,1088.8 L761.7,1092.8 L761.7,1124.6 L764.7,1127.6 L764.7,1130.6 L757.6,1134.6 Z" fill="#0b0f0b" stroke="none" stroke-width="0" stroke-linejoin="round"/>
<path d="M754.5,1115.0 L759.0,1115.0 L760.5,1126.2 L764.5,1130.5 L763.0,1137.5 L759.5,1140.0 L754.5,1140.0 Z" fill="#236b23" stroke="#0b0f0b" stroke-width="1.3" stroke-linejoin="round"/>
<path d="M762.7,1128.6 L764.0,1128.9 L769.0,1128.9 L774.0,1128.0 L779.0,1127.5 L784.0,1127.3 L789.0,1127.2 L790.5,1127.0" fill="none" stroke="#0b0f0b" stroke-width="3.0" stroke-linejoin="round"/>
<line x1="153.60" y1="1294.50" x2="153.60" y2="1270.00" stroke="#0b0f0b" stroke-width="3.0"/>
<line x1="189.60" y1="1272.50" x2="189.60" y2="1250.00" stroke="#0b0f0b" stroke-width="3.0"/>
<line x1="340.20" y1="1244.00" x2="340.20" y2="1215.00" stroke="#0b0f0b" stroke-width="3.0"/>
<line x1="378.60" y1="1218.00" x2="378.60" y2="1194.00" stroke="#0b0f0b" stroke-width="3.0"/>
<line x1="714.80" y1="1181.00" x2="714.80" y2="1155.00" stroke="#0b0f0b" stroke-width="3.0"/>
<line x1="751.80" y1="1154.60" x2="751.80" y2="1128.00" stroke="#0b0f0b" stroke-width="3.0"/>
<rect x="839.9" y="806.0" width="786.90" height="525.90" fill="none" stroke="#000" stroke-width="3.2" stroke-linejoin="miter"/>
<line x1="840.00" y1="1331.90" x2="840.00" y2="1343.50" stroke="#000" stroke-width="3.4"/>
<line x1="938.29" y1="1331.90" x2="938.29" y2="1343.50" stroke="#000" stroke-width="3.4"/>
<line x1="1036.58" y1="1331.90" x2="1036.58" y2="1343.50" stroke="#000" stroke-width="3.4"/>
<line x1="1134.87" y1="1331.90" x2="1134.87" y2="1343.50" stroke="#000" stroke-width="3.4"/>
<line x1="1233.16" y1="1331.90" x2="1233.16" y2="1343.50" stroke="#000" stroke-width="3.4"/>
<line x1="1331.45" y1="1331.90" x2="1331.45" y2="1343.50" stroke="#000" stroke-width="3.4"/>
<line x1="1429.74" y1="1331.90" x2="1429.74" y2="1343.50" stroke="#000" stroke-width="3.4"/>
<line x1="1528.03" y1="1331.90" x2="1528.03" y2="1343.50" stroke="#000" stroke-width="3.4"/>
<line x1="1626.32" y1="1331.90" x2="1626.32" y2="1343.50" stroke="#000" stroke-width="3.4"/>
<line x1="930.50" y1="864.10" x2="930.50" y2="909.50" stroke="#000" stroke-width="2.0"/>
<line x1="924.80" y1="864.10" x2="936.20" y2="864.10" stroke="#000" stroke-width="2.3"/>
<line x1="924.80" y1="909.50" x2="936.20" y2="909.50" stroke="#000" stroke-width="2.3"/>
<path d="M842.6,920.4 L842.8,1100.0 L843.3,1205.0 L844.5,1232.0 L846.5,1248.0 L850.4,1262.5 L854.5,1271.0 L859.1,1277.5 L866.0,1283.5 L873.6,1286.9 L888.2,1289.8 L903.0,1291.0 L917.3,1290.8 L934.7,1288.8 L937.3,1288.3 L938.6,1288.3 L938.6,1184.8 L939.6,1184.8 L939.8,1238.5 L940.6,1252.5 L941.2,1264.5 L942.2,1260.5 L943.6,1261.5 L950.6,1260.9 L957.5,1259.9 L964.5,1259.1 L971.5,1257.8 L978.4,1257.0 L985.4,1256.3 L986.8,1256.3 L986.8,1085.8 L987.8,1085.8 L988.0,1187.0 L988.8,1221.3 L989.4,1233.3 L990.4,1229.3 L991.8,1230.3 L998.1,1229.6 L1004.5,1228.4 L1010.8,1227.7 L1017.2,1226.4 L1023.5,1225.5 L1029.9,1224.9 L1036.2,1224.4 L1037.4,1224.4 L1037.4,1113.5 L1038.4,1113.5 L1038.6,1172.4 L1039.4,1188.6 L1040.0,1200.6 L1041.0,1196.6 L1042.4,1197.6 L1048.6,1197.1 L1054.7,1196.5 L1060.9,1195.5 L1067.0,1195.1 L1073.2,1194.4 L1079.3,1193.8 L1085.5,1192.8 L1091.6,1192.9 L1097.8,1191.6 L1103.9,1191.7 L1110.1,1191.0 L1116.2,1189.5 L1122.4,1189.3 L1128.5,1189.0 L1134.7,1188.5 L1140.8,1187.4 L1147.0,1186.6 L1153.1,1185.9 L1159.3,1185.9 L1165.4,1184.6 L1171.6,1184.3 L1177.7,1183.3 L1183.9,1183.0 L1185.2,1183.0 L1185.2,1011.3 L1186.2,1011.3 L1186.4,1114.5 L1187.2,1149.8 L1187.8,1161.8 L1188.8,1157.8 L1190.2,1158.8 L1197.2,1158.6 L1204.1,1157.3 L1211.1,1157.3 L1218.1,1156.4 L1225.0,1156.1 L1232.0,1155.4 L1233.3,1155.4 L1233.3,1044.8 L1234.3,1044.8 L1234.5,1104.4 L1235.3,1121.0 L1235.9,1133.0 L1236.9,1129.0 L1238.3,1130.0 L1244.4,1129.5 L1250.4,1129.8 L1256.5,1129.1 L1262.6,1128.4 L1268.7,1128.1 L1274.7,1128.3 L1280.8,1128.0 L1282.1,1128.0 L1282.1,1033.3 L1283.1,1033.3 L1283.3,1085.6 L1284.1,1099.0 L1284.7,1111.0 L1285.7,1107.0 L1287.1,1108.0 L1289.6,1107.4 L1292.2,1106.9 L1294.7,1107.3 L1297.2,1107.1 L1299.7,1108.4 L1302.3,1106.1 L1304.8,1108.0 L1307.3,1108.1 L1309.9,1106.1 L1312.4,1108.1 L1314.9,1107.5 L1317.5,1107.8 L1320.0,1106.2 L1322.5,1106.3 L1325.0,1106.2 L1327.6,1107.7 L1330.1,1106.5 L1332.6,1105.8 L1335.2,1105.9 L1337.7,1105.4 L1340.2,1104.7 L1342.7,1104.8 L1345.3,1106.6 L1347.8,1105.0 L1350.3,1106.6 L1352.9,1104.7 L1355.4,1104.7 L1357.9,1105.2 L1360.5,1104.3 L1363.0,1104.7 L1365.5,1106.1 L1368.0,1105.8 L1370.6,1105.5 L1373.1,1104.9 L1375.6,1105.6 L1378.2,1105.5 L1380.7,1104.4 L1383.2,1104.8 L1385.7,1102.9 L1388.3,1104.6 L1390.8,1103.8 L1393.3,1104.5 L1395.9,1104.1 L1398.4,1103.0 L1400.9,1102.3 L1403.4,1104.5 L1406.0,1102.3 L1408.5,1103.1 L1411.0,1102.7 L1413.6,1102.5 L1416.1,1103.5 L1418.6,1104.0 L1421.2,1102.1 L1423.7,1103.0 L1426.2,1102.0 L1428.7,1102.5 L1431.3,1102.0 L1433.8,1101.3 L1436.3,1101.2 L1438.9,1101.2 L1441.4,1103.0 L1443.9,1101.8 L1446.4,1101.0 L1449.0,1102.7 L1451.5,1102.8 L1454.0,1101.3 L1456.6,1100.4 L1459.1,1100.4 L1461.6,1100.0 L1464.2,1100.6 L1466.7,1099.8 L1469.2,1100.1 L1471.7,1100.1 L1474.3,1100.8 L1476.8,1101.5 L1478.1,1101.5 L1478.1,942.4 L1479.1,942.4 L1479.3,1038.0 L1480.1,1069.9 L1480.7,1081.9 L1481.7,1077.9 L1483.1,1078.9 L1485.7,1079.3 L1488.3,1078.2 L1490.9,1078.0 L1493.5,1078.1 L1496.1,1077.5 L1498.7,1077.2 L1501.3,1076.3 L1503.9,1076.6 L1506.6,1078.2 L1509.2,1075.8 L1511.8,1076.6 L1514.4,1076.7 L1517.0,1077.1 L1519.6,1075.2 L1522.2,1075.1 L1524.8,1074.8 L1526.1,1074.8 L1526.1,980.2 L1527.1,980.2 L1527.3,1034.2 L1528.1,1048.3 L1528.7,1060.3 L1529.7,1056.3 L1531.1,1057.3 L1533.7,1056.5 L1536.3,1056.1 L1538.8,1056.8 L1541.4,1056.0 L1544.0,1055.5 L1546.6,1052.7 L1549.1,1052.2 L1551.7,1053.4 L1554.3,1053.4 L1556.9,1051.7 L1559.4,1051.4 L1562.0,1049.4 L1564.6,1049.8 L1567.2,1050.7 L1569.7,1049.9 L1572.3,1049.4 L1574.9,1049.1 L1576.2,1049.1 L1576.2,923.5 L1577.2,923.5 L1577.4,996.4 L1578.2,1018.7 L1578.8,1030.7 L1579.8,1026.7 L1581.2,1027.7 L1583.8,1027.2 L1586.3,1026.9 L1588.9,1027.1 L1591.4,1028.2 L1594.0,1028.7 L1596.5,1029.5 L1599.1,1029.0 L1601.6,1028.9 L1604.2,1029.3 L1606.7,1028.6 L1609.3,1029.0 L1611.8,1027.8 L1614.4,1029.8 L1616.9,1028.5 L1619.5,1030.4 L1622.0,1029.8 L1624.6,1029.0" fill="none" stroke="#3c8833" stroke-width="3.2" stroke-linejoin="round"/>
<line x1="1296.00" y1="1107.00" x2="1296.00" y2="1113.00" stroke="#3c8833" stroke-width="2.2"/>
<line x1="1318.00" y1="1106.00" x2="1318.00" y2="1111.00" stroke="#3c8833" stroke-width="2.2"/>
<line x1="1337.00" y1="1105.00" x2="1337.00" y2="1111.00" stroke="#3c8833" stroke-width="2.2"/>
<line x1="1376.00" y1="1104.30" x2="1376.00" y2="1111.30" stroke="#3c8833" stroke-width="2.2"/>
<line x1="1395.00" y1="1104.00" x2="1395.00" y2="1109.00" stroke="#3c8833" stroke-width="2.2"/>
<line x1="1417.00" y1="1103.20" x2="1417.00" y2="1110.20" stroke="#3c8833" stroke-width="2.2"/>
<line x1="1423.00" y1="1103.20" x2="1423.00" y2="1109.20" stroke="#3c8833" stroke-width="2.2"/>
<line x1="1431.00" y1="1103.00" x2="1431.00" y2="1111.00" stroke="#3c8833" stroke-width="2.2"/>
<line x1="1441.00" y1="1102.80" x2="1441.00" y2="1107.80" stroke="#3c8833" stroke-width="2.2"/>
<line x1="1519.00" y1="1079.50" x2="1519.00" y2="1085.50" stroke="#3c8833" stroke-width="2.2"/>
<line x1="1538.00" y1="1054.50" x2="1538.00" y2="1060.50" stroke="#3c8833" stroke-width="2.2"/>
<line x1="1545.00" y1="1053.00" x2="1545.00" y2="1059.00" stroke="#3c8833" stroke-width="2.2"/>
<line x1="1272.30" y1="1130.00" x2="1272.30" y2="1142.20" stroke="#3c8833" stroke-width="2.4"/>
<line x1="1560.20" y1="1052.00" x2="1560.20" y2="1078.90" stroke="#3c8833" stroke-width="2.4"/>
<text transform="translate(428.50,463.14) rotate(-90)" font-size="30.41" fill="#000" font-weight="bold" textLength="103.15" lengthAdjust="spacingAndGlyphs">Current</text>
<text x="486.55" y="377.80" font-size="25.95" fill="#000" font-weight="bold" textLength="71.45" lengthAdjust="spacingAndGlyphs">10 µA</text>
<text x="478.72" y="677.10" font-size="48.93" fill="#000" font-weight="bold">A</text>
<text x="760.97" y="783.40" font-size="27.88" fill="#000" font-weight="bold" textLength="109.81" lengthAdjust="spacingAndGlyphs">Time (s)</text>
<text x="436.65" y="751.30" font-size="25.00" fill="#000" font-weight="bold" textLength="13.29" lengthAdjust="spacingAndGlyphs">0</text>
<text x="519.65" y="751.30" font-size="25.00" fill="#000" font-weight="bold" textLength="41.30" lengthAdjust="spacingAndGlyphs">300</text>
<text x="614.75" y="751.30" font-size="25.00" fill="#000" font-weight="bold" textLength="42.26" lengthAdjust="spacingAndGlyphs">600</text>
<text x="711.25" y="751.30" font-size="25.00" fill="#000" font-weight="bold" textLength="42.39" lengthAdjust="spacingAndGlyphs">900</text>
<text x="801.25" y="751.30" font-size="25.00" fill="#000" font-weight="bold" textLength="54.61" lengthAdjust="spacingAndGlyphs">1200</text>
<text x="898.15" y="751.30" font-size="25.00" fill="#000" font-weight="bold" textLength="54.83" lengthAdjust="spacingAndGlyphs">1500</text>
<text x="995.35" y="751.30" font-size="25.00" fill="#000" font-weight="bold" textLength="54.83" lengthAdjust="spacingAndGlyphs">1800</text>
<text x="1094.95" y="751.30" font-size="25.00" fill="#000" font-weight="bold" textLength="55.66" lengthAdjust="spacingAndGlyphs">2000</text>
<text x="480.07" y="25.80" font-size="20.36" fill="#000" font-weight="bold" textLength="36.17" lengthAdjust="spacingAndGlyphs" stroke="#000" stroke-width="0.45">100</text>
<text x="491.57" y="63.00" font-size="20.36" fill="#000" font-weight="bold" textLength="24.32" lengthAdjust="spacingAndGlyphs" stroke="#000" stroke-width="0.45">80</text>
<text x="491.57" y="100.90" font-size="21.46" fill="#000" font-weight="bold" textLength="24.32" lengthAdjust="spacingAndGlyphs" stroke="#000" stroke-width="0.45">60</text>
<text x="492.57" y="139.60" font-size="21.46" fill="#000" font-weight="bold" textLength="23.26" lengthAdjust="spacingAndGlyphs" stroke="#000" stroke-width="0.45">40</text>
<text x="491.57" y="177.30" font-size="21.46" fill="#000" font-weight="bold" textLength="24.32" lengthAdjust="spacingAndGlyphs" stroke="#000" stroke-width="0.45">20</text>
<text x="503.17" y="215.00" font-size="21.20" fill="#000" font-weight="bold" textLength="13.59" lengthAdjust="spacingAndGlyphs" stroke="#000" stroke-width="0.45">0</text>
<text x="527.73" y="249.40" font-size="22.54" fill="#000" font-weight="bold" textLength="14.93" lengthAdjust="spacingAndGlyphs" stroke="#000" stroke-width="0.45">0</text>
<text x="578.03" y="249.40" font-size="22.54" fill="#000" font-weight="bold" textLength="26.26" lengthAdjust="spacingAndGlyphs" stroke="#000" stroke-width="0.45">20</text>
<text x="635.53" y="249.40" font-size="22.54" fill="#000" font-weight="bold" textLength="24.88" lengthAdjust="spacingAndGlyphs" stroke="#000" stroke-width="0.45">40</text>
<text x="689.92" y="249.40" font-size="22.54" fill="#000" font-weight="bold" textLength="26.67" lengthAdjust="spacingAndGlyphs" stroke="#000" stroke-width="0.45">60</text>
<text x="747.42" y="249.40" font-size="22.54" fill="#000" font-weight="bold" textLength="23.89" lengthAdjust="spacingAndGlyphs" stroke="#000" stroke-width="0.45">80</text>
<text transform="translate(472.40,132.57) rotate(-90)" font-size="20.12" fill="#000" font-weight="bold" textLength="40.13" lengthAdjust="spacingAndGlyphs">I/µA</text>
<text x="613.65" y="279.60" font-size="21.00" fill="#000" font-weight="bold" textLength="85.51" lengthAdjust="spacingAndGlyphs">4-NP/µM</text>
<text x="864.03" y="453.60" font-size="15.48" fill="#000" font-weight="bold" textLength="35.37" lengthAdjust="spacingAndGlyphs">3 µA</text>
<text transform="translate(824.00,590.73) rotate(-90)" font-size="14.22" fill="#000" font-weight="bold" textLength="89.33" lengthAdjust="spacingAndGlyphs">Current (µA)</text>
<text x="1020.94" y="708.40" font-size="13.70" fill="#000" font-weight="bold" textLength="57.29" lengthAdjust="spacingAndGlyphs">Time(S)</text>
<text x="828.69" y="690.80" font-size="17.59" fill="#000" font-weight="bold" textLength="9.64" lengthAdjust="spacingAndGlyphs">0</text>
<text x="892.29" y="690.80" font-size="17.59" fill="#000" font-weight="bold" textLength="26.36" lengthAdjust="spacingAndGlyphs">100</text>
<text x="963.54" y="690.80" font-size="17.59" fill="#000" font-weight="bold" textLength="26.33" lengthAdjust="spacingAndGlyphs">200</text>
<text x="1034.79" y="690.80" font-size="17.59" fill="#000" font-weight="bold" textLength="26.33" lengthAdjust="spacingAndGlyphs">300</text>
<text x="1106.04" y="690.80" font-size="17.59" fill="#000" font-weight="bold" textLength="26.33" lengthAdjust="spacingAndGlyphs">400</text>
<text x="1177.29" y="690.80" font-size="17.59" fill="#000" font-weight="bold" textLength="26.33" lengthAdjust="spacingAndGlyphs">500</text>
<text x="936.91" y="612.10" font-size="17.07" fill="#000" font-weight="bold">a</text>
<text x="971.71" y="610.50" font-size="15.98" fill="#000" font-weight="bold">b</text>
<text x="1007.51" y="604.70" font-size="14.04" fill="#000" font-weight="bold">c</text>
<text x="1041.71" y="615.50" font-size="15.70" fill="#000" font-weight="bold">d</text>
<text x="1077.91" y="591.00" font-size="16.50" fill="#000" font-weight="bold">e</text>
<text x="1117.41" y="587.60" font-size="14.54" fill="#000" font-weight="bold">f</text>
<text x="1132.81" y="435.50" font-size="16.46" fill="#000" font-weight="bold">g</text>
<text x="1182.81" y="448.90" font-size="16.91" fill="#000" font-weight="bold">h</text>
<text x="72.10" y="896.30" font-size="48.08" fill="#000" font-weight="bold">B</text>
<text x="230.68" y="910.90" font-size="23.92" fill="#000" font-weight="bold" textLength="52.27" lengthAdjust="spacingAndGlyphs">5 µA</text>
<text transform="translate(20.00,1156.22) rotate(-90)" font-size="24.34" fill="#000" font-weight="bold" textLength="164.34" lengthAdjust="spacingAndGlyphs">Current (µA)</text>
<text x="370.29" y="1402.50" font-size="23.21" fill="#000" font-weight="bold" textLength="102.21" lengthAdjust="spacingAndGlyphs">Time(S)</text>
<text x="35.33" y="1369.60" font-size="28.55" fill="#000" font-weight="bold" textLength="14.75" lengthAdjust="spacingAndGlyphs">0</text>
<text x="170.34" y="1369.60" font-size="28.55" fill="#000" font-weight="bold" textLength="44.54" lengthAdjust="spacingAndGlyphs">200</text>
<text x="319.94" y="1369.60" font-size="28.55" fill="#000" font-weight="bold" textLength="43.53" lengthAdjust="spacingAndGlyphs">400</text>
<text x="469.54" y="1369.60" font-size="28.55" fill="#000" font-weight="bold" textLength="44.54" lengthAdjust="spacingAndGlyphs">600</text>
<text x="617.63" y="1369.60" font-size="28.55" fill="#000" font-weight="bold" textLength="44.56" lengthAdjust="spacingAndGlyphs">800</text>
<text x="756.74" y="1369.60" font-size="28.55" fill="#000" font-weight="bold" textLength="57.52" lengthAdjust="spacingAndGlyphs">1000</text>
<text transform="translate(166.80,1147.45) rotate(-90)" font-size="28.53" fill="#621617" font-weight="bold" textLength="61.20" lengthAdjust="spacingAndGlyphs">4-NP</text>
<text transform="translate(204.60,1118.65) rotate(-90)" font-size="28.53" fill="#621617" font-weight="bold" textLength="61.62" lengthAdjust="spacingAndGlyphs">4-NP</text>
<text transform="translate(351.40,1115.25) rotate(-90)" font-size="28.82" fill="#621617" font-weight="bold" textLength="59.56" lengthAdjust="spacingAndGlyphs">4-NP</text>
<text transform="translate(395.10,1003.45) rotate(-90)" font-size="28.53" fill="#621617" font-weight="bold" textLength="61.00" lengthAdjust="spacingAndGlyphs">4-NP</text>
<text transform="translate(729.70,1084.95) rotate(-90)" font-size="28.53" fill="#621617" font-weight="bold" textLength="61.62" lengthAdjust="spacingAndGlyphs">4-NP</text>
<text transform="translate(767.10,1022.95) rotate(-90)" font-size="28.53" fill="#621617" font-weight="bold" textLength="61.62" lengthAdjust="spacingAndGlyphs">4-NP</text>
<text transform="translate(244.60,1241.12) rotate(-90)" font-size="29.37" fill="#000" font-weight="bold" textLength="111.98" lengthAdjust="spacingAndGlyphs">Catechol</text>
<text transform="translate(282.90,1237.93) rotate(-90)" font-size="27.71" fill="#000" font-weight="bold" textLength="139.68" lengthAdjust="spacingAndGlyphs">Resorcinol</text>
<text transform="translate(318.00,1237.33) rotate(-90)" font-size="26.31" fill="#621617" font-weight="bold" textLength="182.17" lengthAdjust="spacingAndGlyphs">Hydroquinone</text>
<text transform="translate(428.50,1181.40) rotate(-90)" font-size="26.00" fill="#1b461b" font-weight="bold">Mn<tspan font-size="12" dy="-13" fill="#000">2+</tspan></text>
<text transform="translate(464.60,1177.40) rotate(-90)" font-size="26.00" fill="#000" font-weight="bold">Cu<tspan font-size="12" dy="-13" fill="#000">2+</tspan></text>
<text transform="translate(497.00,1178.40) rotate(-90)" font-size="26.00" fill="#000" font-weight="bold">Ni<tspan font-size="12" dy="-13" fill="#000">2+</tspan></text>
<text transform="translate(535.10,1177.80) rotate(-90)" font-size="26.00" fill="#621617" font-weight="bold">Pb<tspan font-size="12" dy="-13" fill="#2a0a0a">2+</tspan></text>
<text transform="translate(576.60,1174.60) rotate(-90)" font-size="26.00" fill="#000" font-weight="bold">Cl<tspan font-size="12" dy="-13" fill="#000">-</tspan></text>
<text transform="translate(613.90,1177.20) rotate(-90)" font-size="26.00" fill="#2f2f9c" font-weight="bold">Br<tspan font-size="12" dy="-13" fill="#2f2f9c">-</tspan></text>
<text transform="translate(650.10,1177.30) rotate(-90)" font-size="26.00" fill="#621617" font-weight="bold">So<tspan font-size="12" dy="4">4</tspan><tspan font-size="12" dy="-17" fill="#2a0a0a">2-</tspan></text>
<text transform="translate(688.10,1176.20) rotate(-90)" font-size="26.00" fill="#000" font-weight="bold">Zn<tspan font-size="12" dy="-13" fill="#000">2+</tspan></text>
<text x="855.56" y="878.80" font-size="50.45" fill="#000" font-weight="bold">C</text>
<text x="942.69" y="894.50" font-size="23.27" fill="#000" font-weight="bold" textLength="51.54" lengthAdjust="spacingAndGlyphs">5 µA</text>
<text transform="translate(818.00,1160.22) rotate(-90)" font-size="23.10" fill="#000" font-weight="bold" textLength="161.04" lengthAdjust="spacingAndGlyphs">Current (µA)</text>
<text x="1185.23" y="1394.80" font-size="23.16" fill="#000" font-weight="bold" textLength="102.12" lengthAdjust="spacingAndGlyphs">Time(S)</text>
<text x="832.63" y="1370.50" font-size="29.25" fill="#000" font-weight="bold" textLength="14.85" lengthAdjust="spacingAndGlyphs">0</text>
<text x="913.73" y="1370.50" font-size="29.25" fill="#000" font-weight="bold" textLength="48.55" lengthAdjust="spacingAndGlyphs">100</text>
<text x="1013.33" y="1370.50" font-size="29.25" fill="#000" font-weight="bold" textLength="46.37" lengthAdjust="spacingAndGlyphs">200</text>
<text x="1110.93" y="1370.50" font-size="29.25" fill="#000" font-weight="bold" textLength="47.43" lengthAdjust="spacingAndGlyphs">300</text>
<text x="1209.53" y="1370.50" font-size="29.25" fill="#000" font-weight="bold" textLength="46.40" lengthAdjust="spacingAndGlyphs">400</text>
<text x="1307.13" y="1370.50" font-size="29.25" fill="#000" font-weight="bold" textLength="47.45" lengthAdjust="spacingAndGlyphs">500</text>
<text x="1405.73" y="1370.50" font-size="29.25" fill="#000" font-weight="bold" textLength="47.43" lengthAdjust="spacingAndGlyphs">600</text>
<text x="1503.33" y="1370.50" font-size="29.25" fill="#000" font-weight="bold" textLength="47.43" lengthAdjust="spacingAndGlyphs">700</text>
<text x="1601.93" y="1370.50" font-size="29.25" fill="#000" font-weight="bold" textLength="47.43" lengthAdjust="spacingAndGlyphs">800</text>
<text transform="translate(948.60,1178.05) rotate(-90)" font-size="29.11" fill="#3d2189" font-weight="bold" textLength="59.56" lengthAdjust="spacingAndGlyphs">4-NP</text>
<text transform="translate(995.30,1080.35) rotate(-90)" font-size="27.63" fill="#3d2189" font-weight="bold" textLength="59.56" lengthAdjust="spacingAndGlyphs">4-NP</text>
<text transform="translate(1046.10,1109.95) rotate(-90)" font-size="27.63" fill="#3d2189" font-weight="bold" textLength="60.62" lengthAdjust="spacingAndGlyphs">4-NP</text>
<text transform="translate(1193.90,1008.05) rotate(-90)" font-size="28.53" fill="#3d2189" font-weight="bold" textLength="59.56" lengthAdjust="spacingAndGlyphs">4-NP</text>
<text transform="translate(1243.30,1042.95) rotate(-90)" font-size="28.82" fill="#3d2189" font-weight="bold" textLength="60.28" lengthAdjust="spacingAndGlyphs">4-NP</text>
<text transform="translate(1290.80,1032.85) rotate(-90)" font-size="28.53" fill="#3d2189" font-weight="bold" textLength="59.60" lengthAdjust="spacingAndGlyphs">4-NP</text>
<text transform="translate(1487.90,941.05) rotate(-90)" font-size="29.65" fill="#3d2189" font-weight="bold" textLength="59.56" lengthAdjust="spacingAndGlyphs">4-NP</text>
<text transform="translate(1539.00,979.45) rotate(-90)" font-size="29.65" fill="#3d2189" font-weight="bold" textLength="60.90" lengthAdjust="spacingAndGlyphs">4-NP</text>
<text transform="translate(1584.60,920.35) rotate(-90)" font-size="28.24" fill="#3d2189" font-weight="bold" textLength="59.56" lengthAdjust="spacingAndGlyphs">4-NP</text>
<text transform="translate(1094.60,1188.93) rotate(-90)" font-size="25.97" fill="#e3392b" font-weight="bold" textLength="244.33" lengthAdjust="spacingAndGlyphs">4-Acetamidophenol</text>
<text transform="translate(1143.50,1182.73) rotate(-90)" font-size="26.42" fill="#e3392b" font-weight="bold" textLength="191.96" lengthAdjust="spacingAndGlyphs">4-Aminophenol</text>
<text transform="translate(1338.20,1104.50) rotate(-90)" font-size="26.31" fill="#e3392b" font-weight="bold" textLength="242.98" lengthAdjust="spacingAndGlyphs">4-Nitrobenzoic acid</text>
<text transform="translate(1388.40,1099.40) rotate(-90)" font-size="27.06" fill="#e3392b" font-weight="bold" textLength="266.88" lengthAdjust="spacingAndGlyphs">4-Nitrobenzyl alcohol</text>
<text transform="translate(1439.40,1097.70) rotate(-90)" font-size="29.00" fill="#e3392b" font-weight="bold">H<tspan font-size="15.5">2</tspan>O<tspan font-size="15.5">2</tspan></text>
</svg>
</body></html>
